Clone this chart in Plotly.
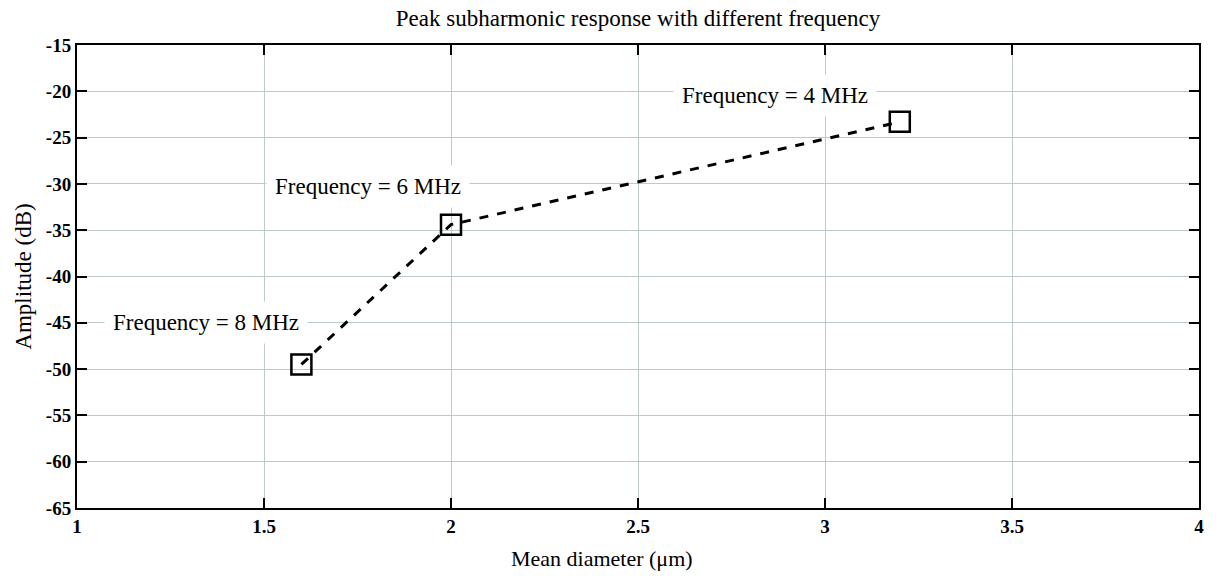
import plotly.graph_objects as go

diameter = [1.6, 2.0, 3.2]
amplitude = [-49.5, -34.4, -23.3]
labels = ["Frequency = 8 MHz", "Frequency = 6 MHz", "Frequency = 4 MHz"]
label_x = [1.344, 1.779, 2.867]
label_y = [-45.0, -30.3, -20.4]
x_ticks = [1, 1.5, 2, 2.5, 3, 3.5, 4]
x_ticktext = ["1", "1.5", "2", "2.5", "3", "3.5", "4"]
y_ticks = [-65, -60, -55, -50, -45, -40, -35, -30, -25, -20, -15]
y_ticktext = ["-65", "-60", "-55", "-50", "-45", "-40", "-35", "-30", "-25", "-20", "-15"]

FONT = "Liberation Serif, Times New Roman, serif"

fig = go.Figure()
fig.add_trace(go.Scatter(
    x=diameter, y=amplitude, mode="lines+markers",
    line=dict(color="black", width=3, dash="dash"),
    marker=dict(symbol="square-open", size=20, color="black", line=dict(width=2.5, color="black")),
    showlegend=False,
))

for t, x, y in zip(labels, label_x, label_y):
    fig.add_annotation(x=x, y=y, text=t, showarrow=False, bgcolor="white",
                       font=dict(family=FONT, size=23, color="black"), borderpad=8)

# x-axis title
fig.add_annotation(x=0.468, y=-0.108, xref="paper", yref="paper", xanchor="center", yanchor="middle",
                   text="Mean diameter (μm)", showarrow=False,
                   font=dict(family=FONT, size=22, color="black"))

fig.update_layout(
    width=1216, height=576,
    margin=dict(l=77, r=14, t=45, b=68),
    plot_bgcolor="white", paper_bgcolor="white",
    title=dict(text="Peak subharmonic response with different frequency", x=0.5, xref="paper",
               xanchor="center", y=0.969, yanchor="middle",
               font=dict(family=FONT, size=23, color="black")),
    font=dict(family=FONT, color="black"),
)
fig.update_xaxes(
    range=[1, 4], tickvals=x_ticks, ticktext=x_ticktext,
    showline=True, linecolor="black", linewidth=2, mirror="ticks",
    ticks="inside", ticklen=10, tickwidth=2, tickcolor="black",
    showgrid=True, gridcolor="#bccaca", gridwidth=1, zeroline=False,
    tickfont=dict(family=FONT, size=19, color="black", weight="bold"),
)
fig.update_yaxes(
    range=[-65, -15], tickvals=y_ticks, ticktext=y_ticktext,
    showline=True, linecolor="black", linewidth=2, mirror="ticks",
    ticks="inside", ticklen=10, tickwidth=2, tickcolor="black",
    showgrid=True, gridcolor="#bccaca", gridwidth=1, zeroline=False,
    tickfont=dict(family=FONT, size=19, color="black", weight="bold"),
    title=dict(text="Amplitude (dB)", font=dict(family=FONT, size=23, color="black"), standoff=8),
)

fig.write_html("out.html")
